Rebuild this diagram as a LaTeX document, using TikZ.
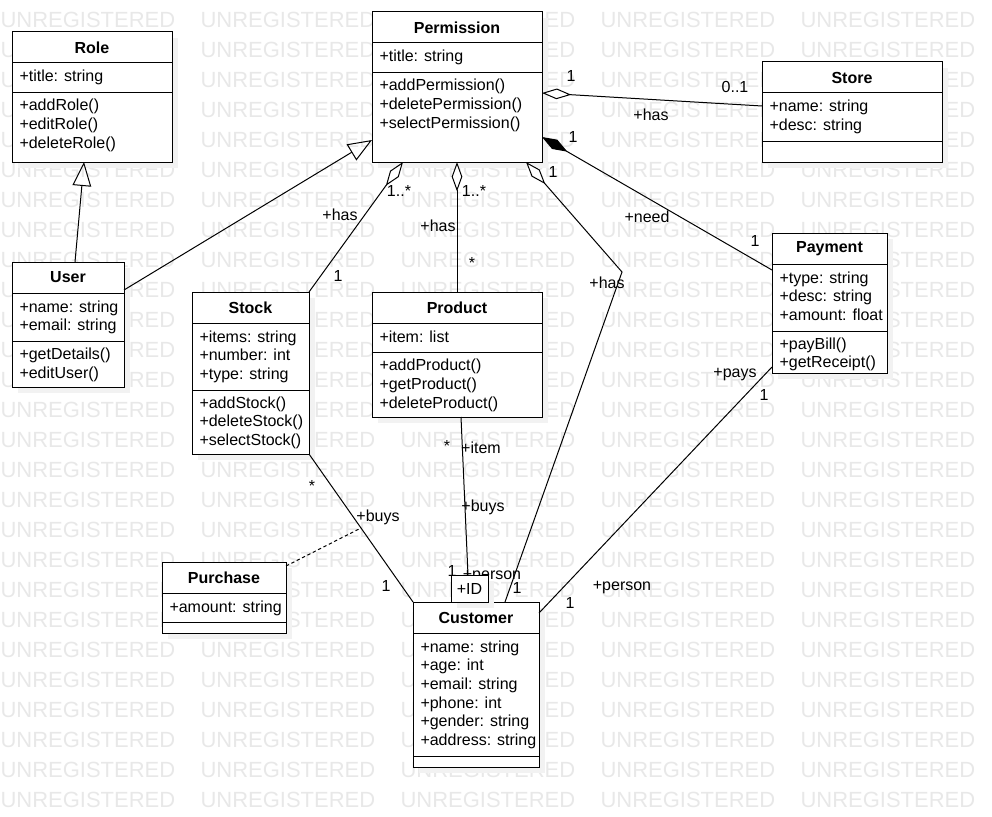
\documentclass[tikz,border=0pt]{standalone}
\usepackage{fontspec}
\setmainfont{Liberation Sans}
\usetikzlibrary{arrows.meta,calc,fit}

\tikzset{
  classbox/.style={draw, fill=white, inner sep=0pt, outer sep=0pt},
  classname/.style={font=\fontsize{12}{14}\selectfont\bfseries, inner sep=0pt},
  member/.style={font=\fontsize{12}{14}\selectfont, anchor=base west, inner sep=0pt},
  lbl/.style={font=\fontsize{12}{14}\selectfont, inner sep=0pt},
  watermark/.style={font=\fontsize{16.5}{18}\selectfont, text=black!9, anchor=west, inner sep=0pt},
  gen/.style={-{Triangle[open, length=18pt, width=14pt]}},
  aggr/.style={{Diamond[fill=white, length=22pt, width=8pt]}-},
  comp/.style={{Diamond[length=22pt, width=8pt]}-},
}

% #1 name, #2-#5 corners, #6 title, #7 number of attributes, #8 attributes, #9 operations
\newcommand{\umlclass}[9]{%
  \fill[black!5] (#2+6,#3+6) rectangle (#4+6,#5+6);
  \node[classbox, fit={(#2,#3) (#4,#5)}] (#1) {};
  \draw (#2,#3+31) -- (#4,#3+31);
  \draw (#2,#3+42+18.7*#7) -- (#4,#3+42+18.7*#7);
  \node[classname] (#1-name) at ({(#2+#4)/2},#3+15.5) {#6};
  \foreach \m [count=\i] in {#8}
    \node[member] (#1-attr\i) at (#2+7,#3+50+18.7*\i-18.7) {\m};
  \def\oplist{#9}%
  \ifx\oplist\empty\else
    \foreach \m [count=\i] in {#9}
      \node[member] (#1-op\i) at (#2+7,#3+60+18.7*#7+18.7*\i-18.7) {\m};
  \fi
}

\begin{document}
\begin{tikzpicture}[x=0.75pt, y=-0.75pt, line width=0.75pt]
  \useasboundingbox (0,0) rectangle (992,817);

  % Watermark
  \foreach \r in {0,...,26}
    \foreach \c in {0,...,4}
      \node[watermark] (wm-\r-\c) at (200*\c,20+30*\r) {UNREGISTERED};

  % Classes
  \umlclass{role}{12}{32}{172}{162}{Role}{1}{+title: string}{+addRole(), +editRole(), +deleteRole()}
  \umlclass{perm}{372}{12}{542}{162}{Permission}{1}{+title: string}{+addPermission(), +deletePermission(), +selectPermission()}
  \umlclass{store}{762}{62}{942}{162}{Store}{2}{+name: string, +desc: string}{}
  \umlclass{pay}{772}{233}{887}{373}{Payment}{3}{+type: string, +desc: string, +amount: float}{+payBill(), +getReceipt()}
  \umlclass{user}{12}{262}{124}{387}{User}{2}{+name: string, +email: string}{+getDetails(), +editUser()}
  \umlclass{stock}{192}{292}{309}{454}{Stock}{3}{+items: string, +number: int, +type: string}{+addStock(), +deleteStock(), +selectStock()}
  \umlclass{prod}{372}{292}{542}{417}{Product}{1}{+item: list}{+addProduct(), +getProduct(), +deleteProduct()}
  \umlclass{purch}{162}{562}{286}{633}{Purchase}{1}{+amount: string}{}
  \umlclass{cust}{413}{602}{539}{767}{Customer}{6}{+name: string, +age: int, +email: string, +phone: int, +gender: string, +address: string}{}

  % Role names and multiplicities
  \node[lbl] (m-store-1) at (571,76) {1};
  \node[lbl] (m-store-2) at (735,87) {0..1};
  \node[lbl] (r-store) at (651,115) {+has};
  \node[lbl] (m-pay-1) at (573,137) {1};
  \node[lbl] (r-pay) at (647,217) {+need};
  \node[lbl] (m-pay-2) at (755,241) {1};
  \node[lbl] (m-cust-1) at (553,172) {1};
  \node[lbl] (r-cust) at (607,283) {+has};
  \node[lbl] (m-cust-2) at (517,588) {1};
  \node[lbl] (m-stock-1) at (399,191) {1..*};
  \node[lbl] (r-stock) at (340,215) {+has};
  \node[lbl] (m-stock-2) at (338,276) {1};
  \node[lbl] (m-prod-1) at (474,191) {1..*};
  \node[lbl] (r-prod) at (438,226) {+has};
  \node[lbl] (m-prod-2) at (472,263) {*};
  \node[lbl] (m-item-1) at (447,446) {*};
  \node[lbl] (r-item) at (481,448) {+item};
  \node[lbl] (r-buys) at (483,507) {+buys};
  \node[lbl] (m-item-2) at (452,571) {1};
  \node[lbl] (r-person) at (492,577) {+person};
  \node[lbl] (m-buys-1) at (312,486) {*};
  \node[lbl] (r-sbuys) at (378,517) {+buys};
  \node[lbl] (m-buys-2) at (386,586) {1};
  \node[lbl] (r-pays) at (735,375) {+pays};
  \node[lbl] (m-pays-1) at (764,395) {1};
  \node[lbl] (m-pays-2) at (570,603) {1};
  \node[lbl] (r-payer) at (622,588) {+person};

  % Qualifier
  \fill[black!5] (457,581) rectangle (494,608);
  \node[classbox, minimum width=27.75pt, minimum height=20.25pt, font=\fontsize{12}{14}\selectfont] (qual) at (469.5,588.5) {+ID};

  % Generalizations
  \draw[gen] ($(user.north west)+(63,0)$) -- ($(role.south west)+(72,0)$);
  \draw[gen] ($(user.north east)+(0,28)$) -- ($(perm.south west)+(0,-22)$);

  % Aggregations
  \draw[aggr] ($(perm.south west)+(31,0)$) -- (stock.north east);
  \draw[aggr] ($(perm.south west)+(85,0)$) -- ($(prod.north west)+(85,0)$);
  \coordinate (bend) at (622,272);
  \draw[aggr] ($(perm.south west)+(154,0)$) -- (bend) -- ($(cust.north west)+(92,0)$);
  \draw[aggr] ($(perm.north east)+(0,81)$) -- ($(store.north west)+(0,44)$);
  \draw[comp] ($(perm.north east)+(0,125)$) -- ($(pay.north west)+(0,37)$);

  % Associations
  \draw ($(prod.south west)+(89,0)$) -- ($(qual.north west)+(17,0)$);
  \draw (stock.south east) -- coordinate[pos=0.5] (buys) (cust.north west);
  \draw[dash pattern=on 2.5pt off 2pt] ($(purch.north east)+(0,4)$) -- (buys);
  \draw ($(pay.north west)+(0,134)$) -- ($(cust.north east)+(0,11)$);
\end{tikzpicture}
\end{document}
